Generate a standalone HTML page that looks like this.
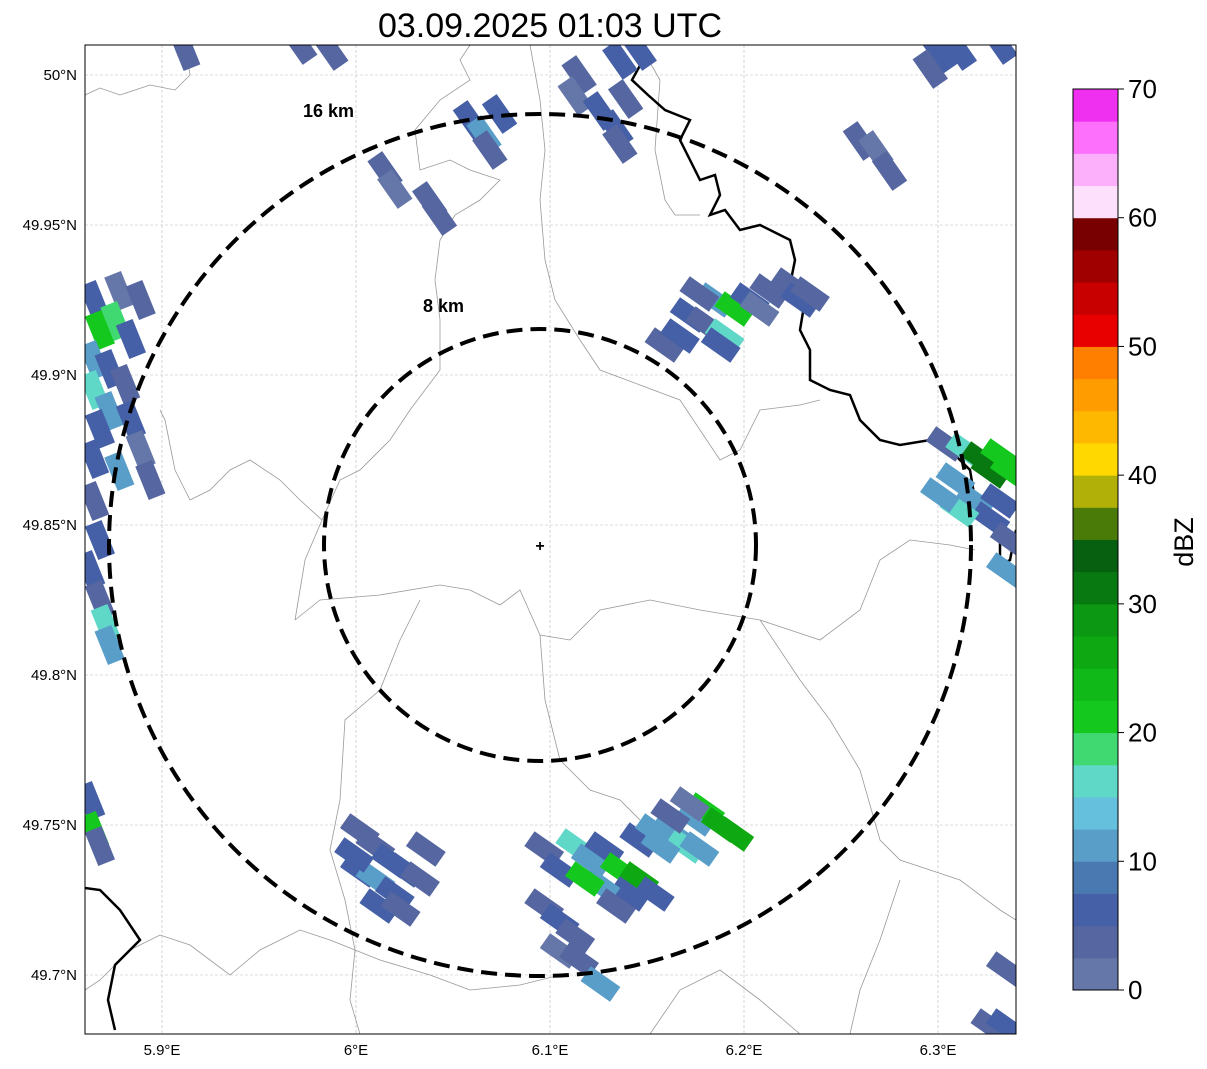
<!DOCTYPE html>
<html><head><meta charset="utf-8">
<style>
html,body{margin:0;padding:0;background:#fff;}
svg{display:block;font-family:"Liberation Sans","DejaVu Sans",sans-serif;}
</style></head>
<body>
<svg id="chart" width="1207" height="1069" viewBox="0 0 1207 1069" xmlns="http://www.w3.org/2000/svg">
<text x="550" y="37" font-size="34" text-anchor="middle">03.09.2025 01:03 UTC</text>
<defs><clipPath id="plotclip"><rect x="85" y="45" width="931" height="989"/></clipPath></defs>
<g id="grid"></g>
<g clip-path="url(#plotclip)">
<g id="borders" fill="none" stroke="#999" stroke-width="0.8">
<path d="M85,95 L100,88 L120,95 L150,85 L175,90 L190,75 L185,45"/>
<path d="M295,620 L300,590 L305,560 L322,520 L300,500 L280,480 L250,460 L230,470 L210,490 L190,500 L175,470 L165,420 L160,410"/>
<path d="M295,620 L320,600 L380,595 L440,585 L470,590 L500,605 L520,590 L540,635 L570,640 L600,610 L650,600 L700,610 L760,620 L820,640 L860,610 L880,560 L910,540 L950,545 L975,550"/>
<path d="M322,520 L340,480 L360,470 L390,440 L410,410 L440,370 L440,320 L435,280 L440,240 L455,215 L480,200 L500,180 L470,170 L450,160 L420,170 L415,130 L440,100 L470,80 L460,60 L470,45"/>
<path d="M530,45 L540,100 L545,150 L540,200 L545,260 L555,300 L580,340 L600,370 L640,385 L680,400 L700,430 L720,460 L740,450 L760,410 L800,405 L820,400"/>
<path d="M640,45 L660,80 L655,150 L665,200 L675,215 L700,215"/>
<path d="M420,600 L400,640 L380,690 L345,720 L340,800 L330,850 L345,900 L355,950 L350,1000 L360,1034"/>
<path d="M85,990 L100,980 L130,950 L160,935 L190,945 L210,960 L230,975 L260,950 L300,930 L330,940 L355,950 L380,960 L430,975 L470,990 L520,985 L560,975"/>
<path d="M540,635 L545,700 L560,760 L590,790 L620,800 L640,820"/>
<path d="M760,620 L800,680 L830,720 L860,770 L880,840 L900,860 L930,870 L960,880 L1000,910 L1016,920"/>
<path d="M900,880 L880,940 L860,990 L850,1034"/>
<path d="M650,1034 L680,990 L720,970 L760,1000 L800,1034"/>
</g>
<path fill="none" stroke="#000" stroke-width="2.5" d="M640,45 L643,60 L632,80 L648,95 L665,110 L690,120 L680,140 L690,160 L700,180 L715,175 L720,195 L710,215 L725,210 L740,230 L760,225 L790,240 L795,260 L790,285 L805,300 L800,330 L810,350 L810,380 L830,390 L850,395 L860,420 L880,440 L900,445 L930,440 L950,450 L970,470 L975,500 L990,520 L1000,540 L1000,565 L1010,560 L1016,530"/>
<path fill="none" stroke="#000" stroke-width="2.5" d="M85,888 L100,890 L120,910 L140,940 L115,965 L108,1000 L115,1030"/>
<g id="cells"></g>
</g>
<g fill="none" stroke="#000" stroke-width="4" stroke-dasharray="16,8">
<circle cx="540" cy="545" r="431"/>
<circle cx="540" cy="545" r="216"/>
</g>
<text x="303" y="117" font-size="18" font-weight="bold">16 km</text>
<text x="423" y="312" font-size="18" font-weight="bold">8 km</text>
<text x="540" y="551" font-size="16" font-weight="bold" text-anchor="middle">+</text>
<rect x="85" y="45" width="931" height="989" fill="none" stroke="#000" stroke-width="1"/>
<g id="axes" font-size="15"></g>
<g id="cbar"></g>
<text x="1193" y="542" font-size="27" text-anchor="middle" transform="rotate(-90 1193 542)">dBZ</text>
</svg>
<script>
const lonTicks=[5.9,6.0,6.1,6.2,6.3];
const lonTickLabels=["5.9°E","6°E","6.1°E","6.2°E","6.3°E"];
const latTicks=[50.0,49.95,49.9,49.85,49.8,49.75,49.7];
const latTickLabels=["50°N","49.95°N","49.9°N","49.85°N","49.8°N","49.75°N","49.7°N"];
const cbarTicks=[0,10,20,30,40,50,60,70];
const levelColors=["#6477a8","#5566a0","#4560a6","#4a78b0","#589ec8","#64c0dc","#60d8c8","#40d870","#14c81e","#10b818","#0ea812","#0c9812","#087810","#066010","#4a7a08","#b0b008","#ffd800","#ffb800","#ff9c00","#ff8000","#e80000","#c80000","#a00000","#780000","#fce0fc","#fcb0fc","#fc70fc","#f030f0"];
const cellLon=[5.865,5.878,5.889,5.868,5.876,5.884,5.865,5.873,5.881,5.865,5.873,5.884,5.868,5.889,5.894,5.865,5.878,5.865,5.868,5.863,5.868,5.871,5.873,
5.863,5.865,5.868,
6.059,6.066,6.074,6.069,6.015,6.020,6.038,6.043,6.115,6.113,6.126,6.134,6.139,6.136,6.136,6.146,5.971,5.987,5.912,
6.260,6.268,6.275,6.301,6.296,6.311,6.332,
6.159,6.167,6.172,6.180,6.185,6.195,6.190,6.188,6.203,6.213,6.224,6.229,6.234,6.208,6.177,
6.304,6.314,6.322,6.332,6.327,6.337,6.309,6.319,6.332,6.327,6.337,6.311,6.301,6.335,
6.335,6.327,6.335,
6.002,6.010,6.018,6.025,6.033,6.002,6.010,6.020,6.012,6.023,5.999,6.036,
6.097,6.105,6.113,6.121,6.128,6.136,6.146,6.154,6.141,6.126,6.118,6.134,6.097,6.105,6.113,6.105,6.115,6.126,6.146,6.154,6.162,6.170,6.175,6.180,6.188,6.195,6.177,6.162,6.172,6.157];
const cellLat=[49.925,49.928,49.925,49.915,49.918,49.912,49.905,49.902,49.897,49.895,49.888,49.885,49.882,49.875,49.865,49.872,49.868,49.858,49.845,49.835,49.825,49.817,49.810,
49.758,49.748,49.743,
49.985,49.980,49.987,49.975,49.968,49.962,49.958,49.953,50.000,49.993,49.988,49.982,49.992,49.977,50.005,50.008,50.010,50.008,50.008,
49.978,49.975,49.968,50.007,50.002,50.008,50.010,
49.910,49.913,49.920,49.917,49.925,49.922,49.913,49.910,49.925,49.928,49.930,49.925,49.927,49.922,49.927,
49.877,49.875,49.872,49.873,49.868,49.868,49.865,49.858,49.858,49.852,49.845,49.855,49.860,49.835,
49.702,49.683,49.683,
49.748,49.743,49.738,49.735,49.732,49.735,49.732,49.727,49.723,49.722,49.740,49.742,
49.742,49.735,49.743,49.738,49.742,49.735,49.732,49.727,49.727,49.730,49.732,49.723,49.723,49.718,49.713,49.708,49.705,49.697,49.745,49.748,49.748,49.743,49.752,49.755,49.750,49.747,49.742,49.753,49.757,49.743];
const cellDbz=[5,2,3,20,18,7,12,5,3,17,10,5,7,2,3,5,12,3,5,7,3,15,12,
5,20,3,
7,12,5,3,3,2,3,3,3,2,5,7,3,3,5,5,3,3,3,
3,2,3,5,3,5,5,
3,5,7,3,12,20,15,7,5,3,3,5,3,2,3,
3,15,30,22,32,20,12,12,7,5,3,15,12,12,
3,3,5,
3,3,7,5,3,5,10,5,7,3,5,3,
3,7,15,12,7,22,25,7,5,12,20,3,3,5,3,2,3,12,5,12,10,15,12,20,25,27,12,3,2,10];
const ns="http://www.w3.org/2000/svg";
const X=lon=>162+(lon-5.9)*1940;
const Y=lat=>75+(50-lat)*3000;
const colorFor=d=>levelColors[Math.max(0,Math.min(27,Math.floor(d/2.5)))];
function mk(tag,attrs,parent){const e=document.createElementNS(ns,tag);for(const k in attrs)e.setAttribute(k,attrs[k]);parent.appendChild(e);return e;}
const grid=document.getElementById('grid'), axes=document.getElementById('axes');
lonTicks.forEach((v,i)=>{const x=X(v);
 const l=mk('line',{x1:x,x2:x,y1:45,y2:1034,stroke:'#bbb','stroke-width':0.6,'stroke-dasharray':'3,2'},grid);
 
 
 const t=mk('text',{x:x,y:1055,'text-anchor':'middle'},axes);t.textContent=lonTickLabels[i];
 
 });
latTicks.forEach((v,i)=>{const y=Y(v);
 const l=mk('line',{x1:85,x2:1016,y1:y,y2:y,stroke:'#bbb','stroke-width':0.6,'stroke-dasharray':'3,2'},grid);
 
 
 const t=mk('text',{x:77,y:y+5,'text-anchor':'end'},axes);t.textContent=latTickLabels[i];
 
 });
const cg=document.getElementById('cells');
cellLon.forEach((lon,i)=>{const x=X(lon),y=Y(cellLat[i]);
 const a=x<200?68:(y<260?55:35);
 const r=mk('rect',{x:x-18,y:y-9,width:36,height:18,fill:colorFor(cellDbz[i]),transform:`rotate(${a} ${x} ${y})`},cg);
 
 });
const cb=document.getElementById('cbar');
const cbTop=89,cbBot=990,cbX=1073,cbW=45;
const CBY=v=>cbBot-(v/70)*(cbBot-cbTop);
levelColors.forEach((c,i)=>{const y1=CBY((i+1)*2.5),y0=CBY(i*2.5);
 const r=mk('rect',{x:cbX,y:y1,width:cbW,height:y0-y1+0.5,fill:c},cb);
 
 });
mk('rect',{x:cbX,y:cbTop,width:cbW,height:cbBot-cbTop,fill:'none',stroke:'#000','stroke-width':1},cb);
cbarTicks.forEach(v=>{const y=CBY(v);
 mk('line',{x1:cbX+cbW,x2:cbX+cbW+6,y1:y,y2:y,stroke:'#000'},cb);
 const t=mk('text',{x:cbX+cbW+10,y:y+9,'font-size':26},cb);t.textContent=v;
 
 });
</script>
</body></html>
